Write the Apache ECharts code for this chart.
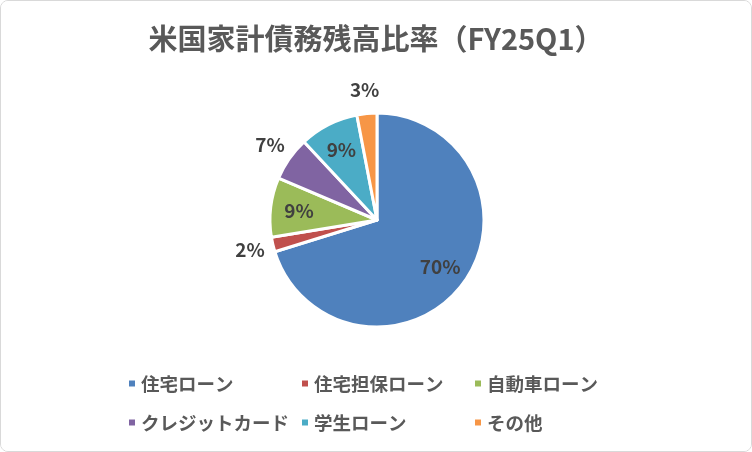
<!DOCTYPE html>
<html><head><meta charset="utf-8">
<script src="https://cdn.jsdelivr.net/npm/echarts@6/dist/echarts.min.js"></script>
<style>
html,body{margin:0;padding:0;background:#fff;}
#wrap{position:absolute;left:0;top:0;width:750px;height:450px;border:1px solid #d9d9d9;border-radius:8px;overflow:hidden;background:#fff;}
#chart{width:750px;height:450px;}
</style></head>
<body><div id="wrap"><div id="chart"></div></div>
<script>
const titleText = '米国家計債務残高比率（FY25Q1）';
const categories = ['住宅ローン','住宅担保ローン','自動車ローン','クレジットカード','学生ローン','その他'];
const values = [12.80, 0.40, 1.64, 1.21, 1.63, 0.55];
const colors = ['#4f81bd','#c0504d','#9bbb59','#8064a2','#4bacc6','#f79646'];
const labelInside = [true, false, true, false, true, false];

const font = '"Noto Sans CJK JP", "Noto Sans", sans-serif';
const cx = 376, cy = 219, R = 107;

const chart = echarts.init(document.getElementById('chart'), null, {renderer:'canvas'});
const mainData = categories.map((n,i)=>({name:n, value:values[i], itemStyle:{color:colors[i]}}));
function labelData(inside){
  return categories.map((n,i)=>({name:n, value:values[i], label:{show: labelInside[i]===inside}}));
}
const labelStyle = {position:'inside', formatter: p => Math.round(p.percent)+'%', color:'#404040', fontSize:19, fontWeight:'bold', fontFamily:font};
const overlayBase = {type:'pie', center:[cx,cy], startAngle:90, clockwise:true, silent:true, animation:false,
  itemStyle:{color:'rgba(0,0,0,0)', borderWidth:0}, labelLine:{show:false}, emphasis:{disabled:true}, avoidLabelOverlap:false, legendHoverLink:false};

chart.setOption({
  backgroundColor:'#fff',
  animation:false,
  title:{text:titleText, left:'center', top:18, textStyle:{fontFamily:font, fontSize:29, fontWeight:'bold', color:'#595959'}},
  legend:{
    data:categories.map((n,i)=>({name:n, itemStyle:{color:colors[i]}})),
    left:121, top:359, width:530, orient:'horizontal',
    icon:'rect', itemWidth:8, itemHeight:8, itemGap:2,
    textStyle:{fontFamily:font, fontSize:18.5, fontWeight:'bold', color:'#595959', width:157, lineHeight:37, overflow:'none'}
  },
  series:[
    {type:'pie', name:'main', center:[cx,cy], radius:R, startAngle:90, clockwise:true,
     data:mainData, label:{show:false}, labelLine:{show:false},
     itemStyle:{borderColor:'#fff', borderWidth:3}, avoidLabelOverlap:false},
    Object.assign({}, overlayBase, {name:'in', radius:[44,R], data:labelData(true), label:labelStyle}),
    Object.assign({}, overlayBase, {name:'out', radius:[R+1,R+40], data:labelData(false), label:labelStyle})
  ]
});
</script></body></html>
